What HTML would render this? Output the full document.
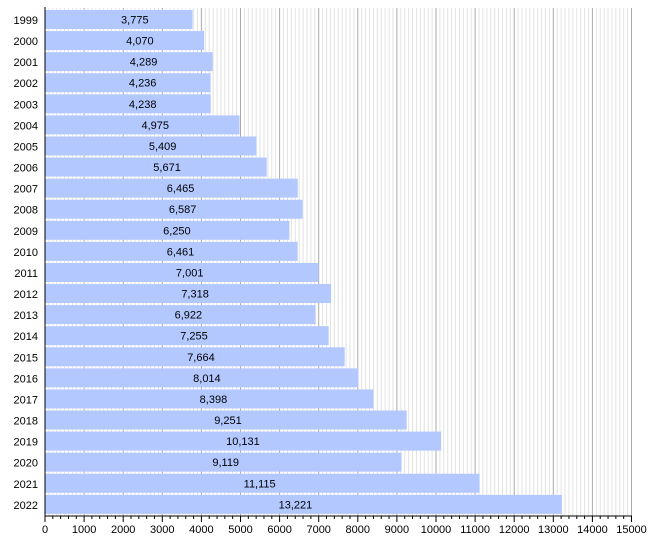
<!DOCTYPE html>
<html><head><meta charset="utf-8"><style>
html,body{margin:0;padding:0;background:#fff;}
svg{display:block;font-family:"Liberation Sans",sans-serif;}
</style></head><body>
<svg id="c" width="650" height="536" xmlns="http://www.w3.org/2000/svg"></svg>
<script>
(function(){
var vals=[3775,4070,4289,4236,4238,4975,5409,5671,6465,6587,6250,6461,7001,7318,6922,7255,7664,8014,8398,9251,10131,9119,11115,13221];
var x0=45,s=586.5/15000,topY=10,pitch=21.08,axisY=516,h='';
for(var v=100;v<=15000;v+=100){var x=x0+v*s;var maj=v%1000==0;
h+='<line x1="'+x+'" y1="8" x2="'+x+'" y2="'+axisY+'" stroke="'+(maj?'#aaa':'#e2e2e2')+'" stroke-width="1"/>';}
for(var i=0;i<vals.length;i++){var w=vals[i]*s,y=topY+pitch*i;
h+='<rect x="'+x0+'" y="'+y+'" width="'+w+'" height="19" fill="#b3c8ff"/>';
var off=16-24*(w-148)/369;
h+='<text x="'+(x0+w/2+off)+'" y="'+(y+13.5)+'" font-size="11" text-anchor="middle" fill="#000">'+vals[i].toLocaleString('en-US')+'</text>';
h+='<text x="38" y="'+(y+14)+'" font-size="11" text-anchor="end" fill="#000">'+(1999+i)+'</text>';}
h+='<line x1="'+x0+'" y1="7" x2="'+x0+'" y2="'+axisY+'" stroke="#000"/>';
h+='<line x1="'+x0+'" y1="'+axisY+'" x2="632" y2="'+axisY+'" stroke="#000"/>';
for(var v=0;v<=15000;v+=200){var x=x0+v*s;var maj=v%1000==0;
h+='<line x1="'+x+'" y1="'+axisY+'" x2="'+x+'" y2="'+(axisY+(maj?6:3))+'" stroke="#000"/>';
if(maj)h+='<text x="'+x+'" y="533" font-size="11" text-anchor="middle">'+v+'</text>';}
document.getElementById('c').innerHTML=h;
})();
</script>
</body></html>
